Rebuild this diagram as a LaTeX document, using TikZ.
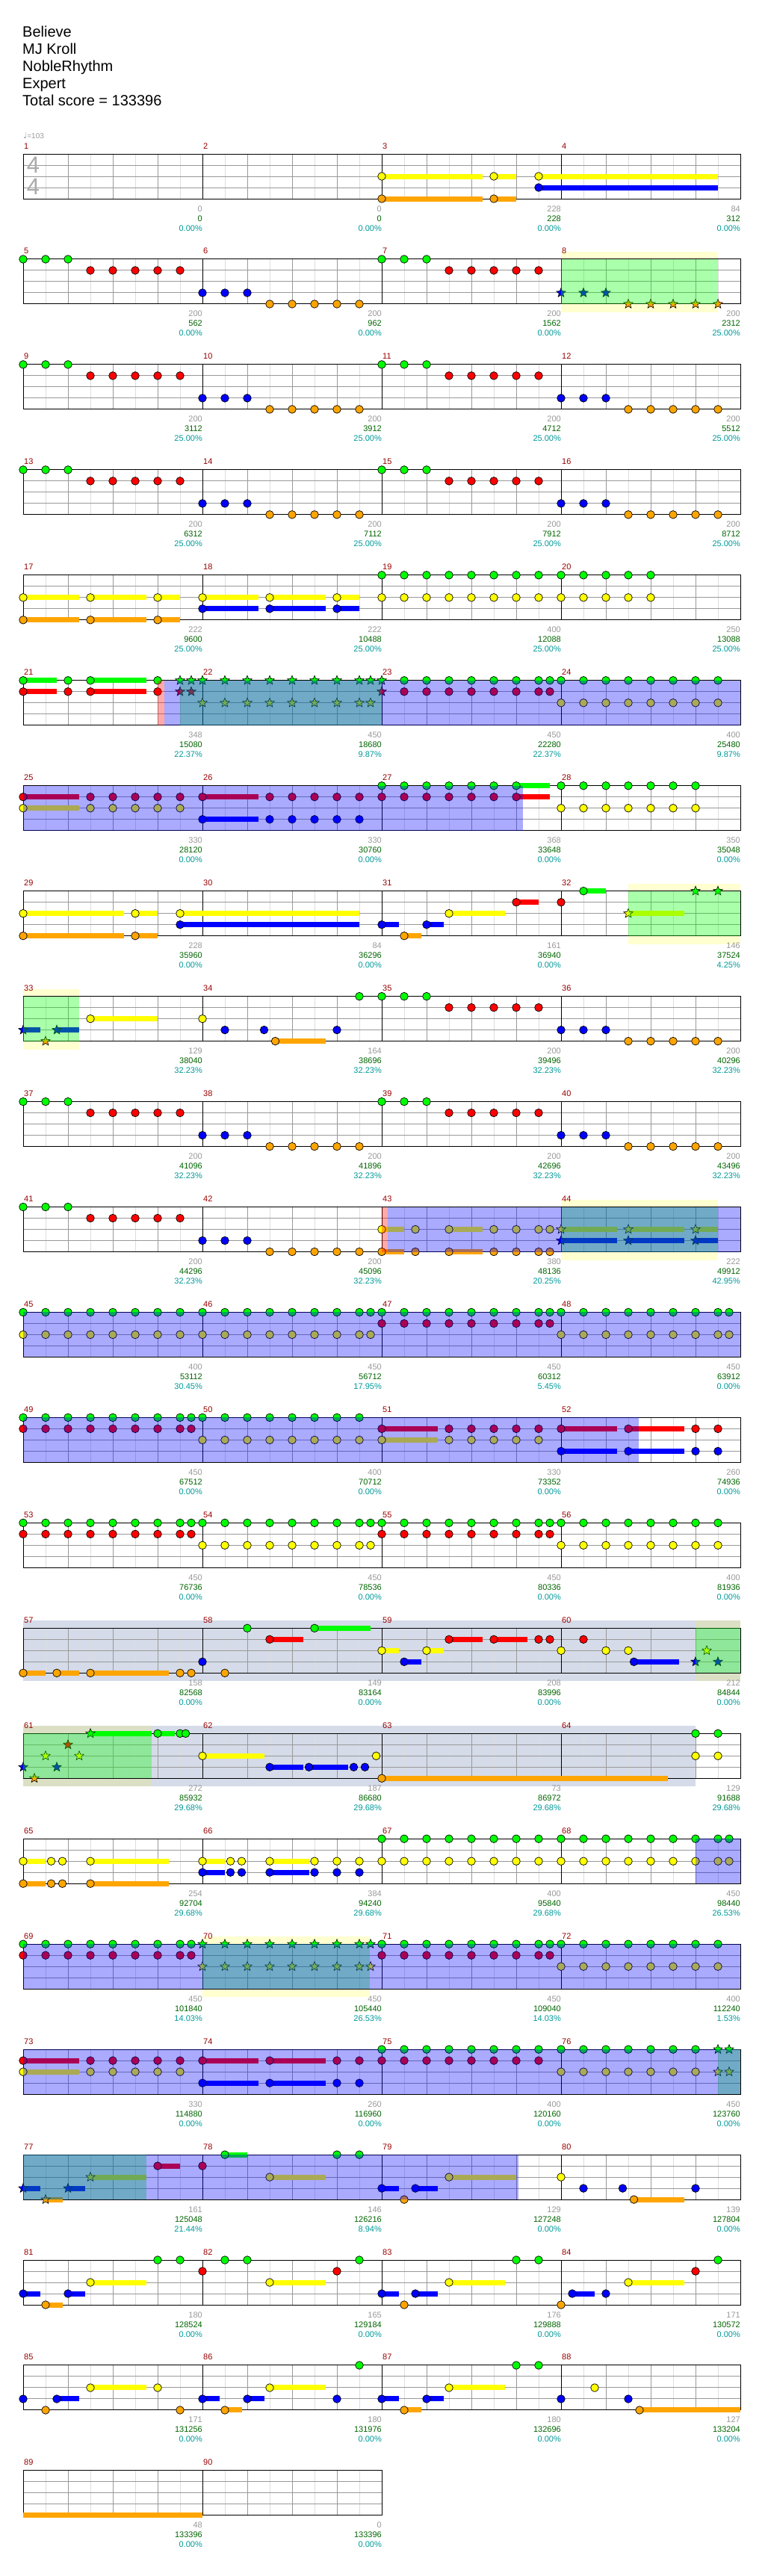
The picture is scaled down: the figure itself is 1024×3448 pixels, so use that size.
\documentclass[tikz,border=0pt]{standalone}
\usepackage{fontspec}
\setmainfont{Liberation Sans}
\newfontfamily\djv{DejaVu Sans}
\usetikzlibrary{shapes.geometric}
\definecolor{lane0}{RGB}{0,255,0}
\definecolor{lane1}{RGB}{255,0,0}
\definecolor{lane2}{RGB}{255,255,0}
\definecolor{lane3}{RGB}{0,0,255}
\definecolor{lane4}{RGB}{255,165,0}
\definecolor{cGL}{RGB}{221,221,221}
\definecolor{cGD}{RGB}{153,153,153}
\definecolor{haloc}{RGB}{255,255,208}
\definecolor{soloc}{RGB}{213,219,232}
\definecolor{olivc}{RGB}{219,224,197}
\definecolor{mnc}{RGB}{153,0,0}
\definecolor{scg}{RGB}{153,153,153}
\definecolor{scgr}{RGB}{0,100,0}
\definecolor{scp}{RGB}{0,153,153}
\definecolor{tsig}{RGB}{170,170,170}
\definecolor{ovg}{RGB}{0,255,0}
\definecolor{ovb}{RGB}{0,0,255}
\definecolor{ovr}{RGB}{255,0,0}
\tikzset{
  nd/.style={draw=black,line width=0.7pt},
  stn/.style={star,star points=5,star point ratio=2.3,minimum size=13pt,inner sep=0pt,draw=black,line width=0.6pt},
  mn/.style={anchor=base west,inner sep=0pt,text=mnc,font=\fontsize{11}{11}\selectfont},
  sg/.style={anchor=base east,inner sep=0pt,text=scg,font=\fontsize{11}{11}\selectfont},
  sgr/.style={anchor=base east,inner sep=0pt,text=scgr,font=\fontsize{11}{11}\selectfont},
  sp/.style={anchor=base east,inner sep=0pt,text=scp,font=\fontsize{11}{11}\selectfont},
  ttl/.style={anchor=base west,inner sep=0pt,font=\fontsize{20}{20}\selectfont},
}
\def\Eall{0,1,2,3,4,5,6,7}
\def\Eh{0,1,2,3,4,5,6,7,7.5}
\newcommand\nMX[2]{\pgfmathtruncatemacro\mrow{int((#1-1)/4)}\pgfmathtruncatemacro\mcol{mod(#1-1,4)}\pgfmathsetmacro\px{31+240*\mcol+30*(#2)}\pgfmathsetmacro\rowT{206+140.95*\mrow}}
\newcommand\nN[3]{\edef\nlist{#3}\foreach \p in \nlist {\nMX{#1}{\p}\fill[lane#2,nd] (\px,\rowT+15*#2) circle (5.3pt);}}
\newcommand\nS[3]{\edef\nlist{#3}\foreach \p in \nlist {\nMX{#1}{\p}\node[stn,fill=lane#2] at (\px,\rowT+15*#2) {};}}
\newcommand\nBar[4]{\nMX{#1}{#4}\let\xb\px\nMX{#1}{#3}\fill[lane#2] (\px,\rowT+15*#2-3.5) rectangle (\xb,\rowT+15*#2+3.5);}
\newcommand\nSu[4]{\nBar{#1}{#2}{#3}{#4}\fill[lane#2,nd] (\px,\rowT+15*#2) circle (5.3pt);}
\newcommand\nSSu[4]{\nBar{#1}{#2}{#3}{#4}\node[stn,fill=lane#2] at (\px,\rowT+15*#2) {};}
\newcommand\nPA[1]{\nN{#1}{0}{0,1,2}\nN{#1}{1}{3,4,5,6,7}}
\newcommand\nPB[1]{\nN{#1}{3}{0,1,2}\nN{#1}{4}{3,4,5,6,7}}
\newcommand\nOv[4]{\nMX{#2}{#4}\let\xb\px\nMX{#2}{#3}\fill[#1,fill opacity=0.333] (\px,\rowT) rectangle (\xb,\rowT+60);}
\newcommand\nHalo[4]{\nMX{#2}{#4}\let\xb\px\nMX{#2}{#3}\fill[#1] (\px,\rowT-10) rectangle (\xb,\rowT);\fill[#1] (\px,\rowT+60) rectangle (\xb,\rowT+71);}
\newcommand\nBg[4]{\nMX{#2}{#4}\let\xb\px\nMX{#2}{#3}\fill[#1] (\px,\rowT-10) rectangle (\xb,\rowT+71);}
\newcommand\nSc[4]{\nMX{#1}{8}\node[sg] at (\px,\rowT+77) {#2};\node[sgr] at (\px,\rowT+90) {#3};\node[sp] at (\px,\rowT+103) {#4\%};}
\newcommand\nStaff[2]{%
  \pgfmathsetmacro\T{206+140.95*#1}%
  \pgfmathtruncatemacro\ne{8*#2}%
  \pgfmathsetmacro\xe{31+240*#2}%
  \foreach \k in {1,3,...,\ne}{\draw[cGL,line width=1pt] (31+30*\k,\T) -- ++(0,60);}
  \foreach \k in {2,4,...,\ne}{\draw[cGD,line width=1pt] (31+30*\k,\T) -- ++(0,60);}
  \foreach \j in {1,2,3}{\draw[cGD,line width=1pt] (31,\T+15*\j) -- (\xe,\T+15*\j);}
  \foreach \k in {8,16,...,\ne}{\draw[black,line width=1pt] (31+30*\k,\T) -- ++(0,60);}
  \draw[black,line width=1pt] (31,\T) rectangle (\xe,\T+60);
}
\begin{document}
\begin{tikzpicture}[x=1pt,y=-1pt]
\useasboundingbox (0,0) rectangle (1024,3448);
\fill[white] (0,0) rectangle (1024,3448);
% title
\node[ttl] (t1) at (30,49) {Believe};
\node[ttl] (t2) at (30,72) {MJ Kroll};
\node[ttl] (t3) at (30,95) {NobleRhythm};
\node[ttl] (t4) at (30,118) {Expert};
\node[ttl] (t5) at (30,141) {Total score = 133396};
\node[anchor=base west,inner sep=0pt,text=scg] (tempo) at (31,185) {{\djv\fontsize{11}{11}\selectfont ♩}{\fontsize{10}{10}\selectfont =103}};
% backgrounds
\nHalo{haloc}{8}{0}{7}
\nHalo{haloc}{32}{3}{8}
\nHalo{haloc}{33}{0}{2.5}
\nHalo{haloc}{44}{0}{7}
\nHalo{haloc}{70}{0}{7.46}
\nBg{soloc}{57}{0}{32}
\nBg{soloc}{61}{0}{30}
\nHalo{olivc}{60}{6}{8}
\nHalo{olivc}{61}{0}{5.73}
% staffs
\foreach \r in {0,...,21}{\nStaff{\r}{4}}
\nStaff{22}{2}
\node[text=tsig,inner sep=0pt,font=\fontsize{31}{31}\selectfont] (ts1) at (44.5,221) {4};
\node[text=tsig,inner sep=0pt,font=\fontsize{31}{31}\selectfont] (ts2) at (44.5,250) {4};
% notes
\nSu{3}{2}{0}{4.5}\nSu{3}{2}{5}{6}\nSu{3}{4}{0}{4.5}\nSu{3}{4}{5}{6}\nSu{3}{2}{7}{15}\nSu{3}{3}{7}{15}
\nPA{5}\nPB{6}\nPA{7}\nS{8}{3}{0,1,2}\nS{8}{4}{3,4,5,6,7}
\nPA{9}\nPB{10}\nPA{11}\nPB{12}\nPA{13}\nPB{14}\nPA{15}\nPB{16}
\nSu{17}{2}{0}{2.5}\nSu{17}{2}{3}{5.5}\nSu{17}{2}{6}{7}\nSu{17}{4}{0}{2.5}\nSu{17}{4}{3}{5.5}\nSu{17}{4}{6}{7}
\nSu{18}{2}{0}{2.5}\nSu{18}{2}{3}{5.5}\nSu{18}{2}{6}{7}\nSu{18}{3}{0}{2.5}\nSu{18}{3}{3}{5.5}\nSu{18}{3}{6}{7}
\nN{19}{0}{\Eall}\nN{19}{2}{\Eall}\nN{20}{0}{0,1,2,3,4}\nN{20}{2}{0,1,2,3,4}
\nSu{21}{0}{0}{1.5}\nN{21}{0}{2,6}\nSu{21}{0}{3}{5.5}\nSu{21}{1}{0}{1.5}\nN{21}{1}{2,6}\nSu{21}{1}{3}{5.5}\nS{21}{0}{7,7.5}\nS{21}{1}{7,7.5}
\nS{22}{0}{\Eh}\nS{22}{2}{\Eh}
\nN{23}{0}{1,2,3,4,5,6,7,7.5}\nN{23}{1}{1,2,3,4,5,6,7,7.5}\nS{23}{0}{0}\nS{23}{1}{0}
\nN{24}{0}{\Eall}\nN{24}{2}{\Eall}
\nSu{25}{1}{0}{2.5}\nN{25}{1}{3,4,5,6,7}\nSu{25}{2}{0}{2.5}\nN{25}{2}{3,4,5,6,7}
\nSu{26}{1}{0}{2.5}\nN{26}{1}{3,4,5,6,7}\nSu{26}{3}{0}{2.5}\nN{26}{3}{3,4,5,6,7}
\nN{27}{0}{0,1,2,3,4,5}\nSu{27}{0}{6}{7.5}\nN{27}{1}{0,1,2,3,4,5}\nSu{27}{1}{6}{7.5}
\nN{28}{0}{0,1,2,3,4,5,6}\nN{28}{2}{0,1,2,3,4,5,6}
\nSu{29}{2}{0}{4.5}\nSu{29}{2}{5}{6}\nSu{29}{4}{0}{4.5}\nSu{29}{4}{5}{6}\nSu{29}{2}{7}{15}\nSu{29}{3}{7}{15}
\nSu{31}{3}{0}{0.75}\nSu{31}{4}{1}{1.75}\nSu{31}{3}{2}{2.75}\nSu{31}{2}{3}{5.5}\nSu{31}{1}{6}{7}
\nN{32}{1}{0}\nSu{32}{0}{1}{2}\nSSu{32}{2}{3}{5.5}\nS{32}{0}{6,7}
\nSSu{33}{3}{0}{0.75}\nSSu{33}{3}{1.5}{2.5}\nS{33}{4}{1}\nSu{33}{2}{3}{6}
\nN{34}{2}{0}\nN{34}{3}{1,2.75,6}\nSu{34}{4}{3.25}{5.5}\nN{34}{0}{7}
\nPA{35}\nPB{36}\nPA{37}\nPB{38}\nPA{39}\nPB{40}\nPA{41}\nPB{42}
\nSu{43}{2}{0}{1}\nSu{43}{2}{3}{4.5}\nN{43}{2}{1.5,5,6,7,7.5}\nSu{43}{4}{0}{1}\nSu{43}{4}{3}{4.5}\nN{43}{4}{1.5,5,6,7,7.5}
\nSSu{44}{2}{0}{2.5}\nSSu{44}{2}{3}{5.5}\nSSu{44}{2}{6}{7}\nSSu{44}{3}{0}{2.5}\nSSu{44}{3}{3}{5.5}\nSSu{44}{3}{6}{7}
\nN{45}{0}{\Eall}\nN{45}{2}{\Eall}\nN{46}{0}{\Eh}\nN{46}{2}{\Eh}\nN{47}{0}{\Eh}\nN{47}{1}{\Eh}\nN{48}{0}{\Eh}\nN{48}{2}{\Eh}
\nN{49}{0}{\Eh}\nN{49}{1}{\Eh}\nN{50}{0}{\Eall}\nN{50}{2}{\Eall}
\nSu{51}{1}{0}{2.5}\nN{51}{1}{3,4,5,6,7}\nSu{51}{2}{0}{2.5}\nN{51}{2}{3,4,5,6,7}
\nSu{52}{1}{0}{2.5}\nSu{52}{1}{3}{5.5}\nN{52}{1}{6,7}\nSu{52}{3}{0}{2.5}\nSu{52}{3}{3}{5.5}\nN{52}{3}{6,7}
\nN{53}{0}{\Eh}\nN{53}{1}{\Eh}\nN{54}{0}{\Eh}\nN{54}{2}{\Eh}\nN{55}{0}{\Eh}\nN{55}{1}{\Eh}\nN{56}{0}{\Eall}\nN{56}{2}{\Eall}
\nSu{57}{4}{0}{1}\nSu{57}{4}{1.5}{2.5}\nSu{57}{4}{3}{6.5}\nN{57}{4}{7,7.5}
\nN{58}{3}{0}\nN{58}{4}{1}\nN{58}{0}{2}\nSu{58}{1}{3}{4.5}\nSu{58}{0}{5}{7.5}
\nSu{59}{2}{0}{0.75}\nSu{59}{3}{1}{1.75}\nSu{59}{2}{2}{2.75}\nSu{59}{1}{3}{4.5}\nSu{59}{1}{5}{6.5}\nN{59}{1}{7,7.5}
\nN{60}{2}{0,2,3}\nN{60}{1}{1}\nSu{60}{3}{3.25}{5.25}\nS{60}{3}{6,7}\nS{60}{2}{6.5}
\nS{61}{3}{0,1.5}\nS{61}{4}{0.5}\nS{61}{2}{1,2.5}\nS{61}{1}{2}\nSSu{61}{0}{3}{5.73}\nSu{61}{0}{6}{6.75}\nN{61}{0}{7,7.25}
\nSu{62}{2}{0}{2.75}\nSu{62}{3}{3}{4.5}\nSu{62}{3}{4.75}{6.5}\nN{62}{3}{6.75,7.25}\nN{62}{2}{7.75}
\nSu{63}{4}{0}{12.75}
\nN{64}{0}{6,7}\nN{64}{2}{6,7}
\nSu{65}{2}{0}{1}\nN{65}{2}{1.25,1.75}\nSu{65}{2}{3}{6.5}\nSu{65}{4}{0}{1}\nN{65}{4}{1.25,1.75}\nSu{65}{4}{3}{6.5}
\nSu{66}{2}{0}{1}\nN{66}{2}{1.25,1.75,5,6,7}\nSu{66}{2}{3}{4.75}\nSu{66}{3}{0}{1}\nN{66}{3}{1.25,1.75,5,6,7}\nSu{66}{3}{3}{4.75}
\nN{67}{0}{\Eall}\nN{67}{2}{\Eall}\nN{68}{0}{\Eh}\nN{68}{2}{\Eh}
\nN{69}{0}{\Eh}\nN{69}{1}{\Eh}\nS{70}{0}{\Eh}\nS{70}{2}{\Eh}\nN{71}{0}{\Eh}\nN{71}{1}{\Eh}\nN{72}{0}{\Eall}\nN{72}{2}{\Eall}
\nSu{73}{1}{0}{2.5}\nN{73}{1}{3,4,5,6,7}\nSu{73}{2}{0}{2.5}\nN{73}{2}{3,4,5,6,7}
\nSu{74}{1}{0}{2.5}\nSu{74}{1}{3}{5.5}\nN{74}{1}{6,7}\nSu{74}{3}{0}{2.5}\nSu{74}{3}{3}{5.5}\nN{74}{3}{6,7}
\nN{75}{0}{\Eall}\nN{75}{1}{\Eall}
\nN{76}{0}{0,1,2,3,4,5,6}\nN{76}{2}{0,1,2,3,4,5,6}\nS{76}{0}{7,7.5}\nS{76}{2}{7,7.5}
\nSSu{77}{3}{0}{0.75}\nSSu{77}{4}{1}{1.75}\nSSu{77}{3}{2}{2.75}\nSSu{77}{2}{3}{5.5}\nSu{77}{1}{6}{7}
\nN{78}{1}{0}\nSu{78}{0}{1}{2}\nSu{78}{2}{3}{5.5}\nN{78}{0}{6,7}
\nSu{79}{3}{0}{0.75}\nN{79}{4}{1}\nSu{79}{3}{1.5}{2.5}\nSu{79}{2}{3}{6}
\nN{80}{2}{0}\nN{80}{3}{1,2.75,6}\nSu{80}{4}{3.25}{5.5}
\nSu{81}{3}{0}{0.75}\nSu{81}{4}{1}{1.75}\nSu{81}{3}{2}{2.75}\nSu{81}{2}{3}{5.5}\nN{81}{0}{6,7}
\nN{82}{1}{0,6}\nN{82}{0}{1,2,7}\nSu{82}{2}{3}{5.5}
\nSu{83}{3}{0}{0.75}\nN{83}{4}{1}\nSu{83}{3}{1.5}{2.5}\nSu{83}{2}{3}{5.5}\nN{83}{0}{6,7}
\nN{84}{4}{0}\nSu{84}{3}{0.5}{1.5}\nN{84}{3}{2}\nSu{84}{2}{3}{5.5}\nN{84}{1}{6}\nN{84}{0}{7}
\nN{85}{3}{0}\nN{85}{4}{1,7}\nSu{85}{3}{1.5}{2.5}\nSu{85}{2}{3}{5.5}\nN{85}{2}{6}
\nSu{86}{3}{0}{0.75}\nSu{86}{4}{1}{1.75}\nSu{86}{3}{2}{2.75}\nSu{86}{2}{3}{5.5}\nN{86}{3}{6}\nN{86}{0}{7}
\nSu{87}{3}{0}{0.75}\nSu{87}{4}{1}{1.75}\nSu{87}{3}{2}{2.75}\nSu{87}{2}{3}{5.5}\nN{87}{0}{6,7}
\nN{88}{3}{0,3}\nN{88}{2}{1.5}\nSu{88}{4}{3.5}{8}
\nBar{89}{4}{0}{8}
% overlays: green, then blue, then red
\nOv{ovg}{8}{0}{7}
\nOv{ovg}{21}{7}{16}
\nOv{ovg}{32}{3}{8}
\nOv{ovg}{33}{0}{2.5}
\nOv{ovg}{44}{0}{7}
\nOv{ovg}{60}{6}{8}
\nOv{ovg}{61}{0}{5.73}
\nOv{ovg}{70}{0}{7.46}
\nOv{ovg}{76}{7}{8}
\nOv{ovg}{77}{0}{5.5}
\nOv{ovb}{21}{6.29}{32}
\nOv{ovb}{25}{0}{22.3}
\nOv{ovb}{43}{0.27}{16}
\nOv{ovb}{45}{0}{32}
\nOv{ovb}{49}{0}{27.45}
\nOv{ovb}{68}{6}{8}
\nOv{ovb}{69}{0}{32}
\nOv{ovb}{73}{0}{32}
\nOv{ovb}{77}{0}{22.1}
\nOv{ovr}{21}{6}{6.29}
\nOv{ovr}{43}{0}{0.27}
% measure numbers
\foreach \m in {1,...,90}{\nMX{\m}{0}\node[mn] at (\px+1,\rowT-7) {\m};}
% scores
\nSc{1}{0}{0}{0.00}\nSc{2}{0}{0}{0.00}\nSc{3}{228}{228}{0.00}\nSc{4}{84}{312}{0.00}
\nSc{5}{200}{562}{0.00}\nSc{6}{200}{962}{0.00}\nSc{7}{200}{1562}{0.00}\nSc{8}{200}{2312}{25.00}
\nSc{9}{200}{3112}{25.00}\nSc{10}{200}{3912}{25.00}\nSc{11}{200}{4712}{25.00}\nSc{12}{200}{5512}{25.00}
\nSc{13}{200}{6312}{25.00}\nSc{14}{200}{7112}{25.00}\nSc{15}{200}{7912}{25.00}\nSc{16}{200}{8712}{25.00}
\nSc{17}{222}{9600}{25.00}\nSc{18}{222}{10488}{25.00}\nSc{19}{400}{12088}{25.00}\nSc{20}{250}{13088}{25.00}
\nSc{21}{348}{15080}{22.37}\nSc{22}{450}{18680}{9.87}\nSc{23}{450}{22280}{22.37}\nSc{24}{400}{25480}{9.87}
\nSc{25}{330}{28120}{0.00}\nSc{26}{330}{30760}{0.00}\nSc{27}{368}{33648}{0.00}\nSc{28}{350}{35048}{0.00}
\nSc{29}{228}{35960}{0.00}\nSc{30}{84}{36296}{0.00}\nSc{31}{161}{36940}{0.00}\nSc{32}{146}{37524}{4.25}
\nSc{33}{129}{38040}{32.23}\nSc{34}{164}{38696}{32.23}\nSc{35}{200}{39496}{32.23}\nSc{36}{200}{40296}{32.23}
\nSc{37}{200}{41096}{32.23}\nSc{38}{200}{41896}{32.23}\nSc{39}{200}{42696}{32.23}\nSc{40}{200}{43496}{32.23}
\nSc{41}{200}{44296}{32.23}\nSc{42}{200}{45096}{32.23}\nSc{43}{380}{48136}{20.25}\nSc{44}{222}{49912}{42.95}
\nSc{45}{400}{53112}{30.45}\nSc{46}{450}{56712}{17.95}\nSc{47}{450}{60312}{5.45}\nSc{48}{450}{63912}{0.00}
\nSc{49}{450}{67512}{0.00}\nSc{50}{400}{70712}{0.00}\nSc{51}{330}{73352}{0.00}\nSc{52}{260}{74936}{0.00}
\nSc{53}{450}{76736}{0.00}\nSc{54}{450}{78536}{0.00}\nSc{55}{450}{80336}{0.00}\nSc{56}{400}{81936}{0.00}
\nSc{57}{158}{82568}{0.00}\nSc{58}{149}{83164}{0.00}\nSc{59}{208}{83996}{0.00}\nSc{60}{212}{84844}{0.00}
\nSc{61}{272}{85932}{29.68}\nSc{62}{187}{86680}{29.68}\nSc{63}{73}{86972}{29.68}\nSc{64}{129}{91688}{29.68}
\nSc{65}{254}{92704}{29.68}\nSc{66}{384}{94240}{29.68}\nSc{67}{400}{95840}{29.68}\nSc{68}{450}{98440}{26.53}
\nSc{69}{450}{101840}{14.03}\nSc{70}{450}{105440}{26.53}\nSc{71}{450}{109040}{14.03}\nSc{72}{400}{112240}{1.53}
\nSc{73}{330}{114880}{0.00}\nSc{74}{260}{116960}{0.00}\nSc{75}{400}{120160}{0.00}\nSc{76}{450}{123760}{0.00}
\nSc{77}{161}{125048}{21.44}\nSc{78}{146}{126216}{8.94}\nSc{79}{129}{127248}{0.00}\nSc{80}{139}{127804}{0.00}
\nSc{81}{180}{128524}{0.00}\nSc{82}{165}{129184}{0.00}\nSc{83}{176}{129888}{0.00}\nSc{84}{171}{130572}{0.00}
\nSc{85}{171}{131256}{0.00}\nSc{86}{180}{131976}{0.00}\nSc{87}{180}{132696}{0.00}\nSc{88}{127}{133204}{0.00}
\nSc{89}{48}{133396}{0.00}\nSc{90}{0}{133396}{0.00}
\end{tikzpicture}
\end{document}
